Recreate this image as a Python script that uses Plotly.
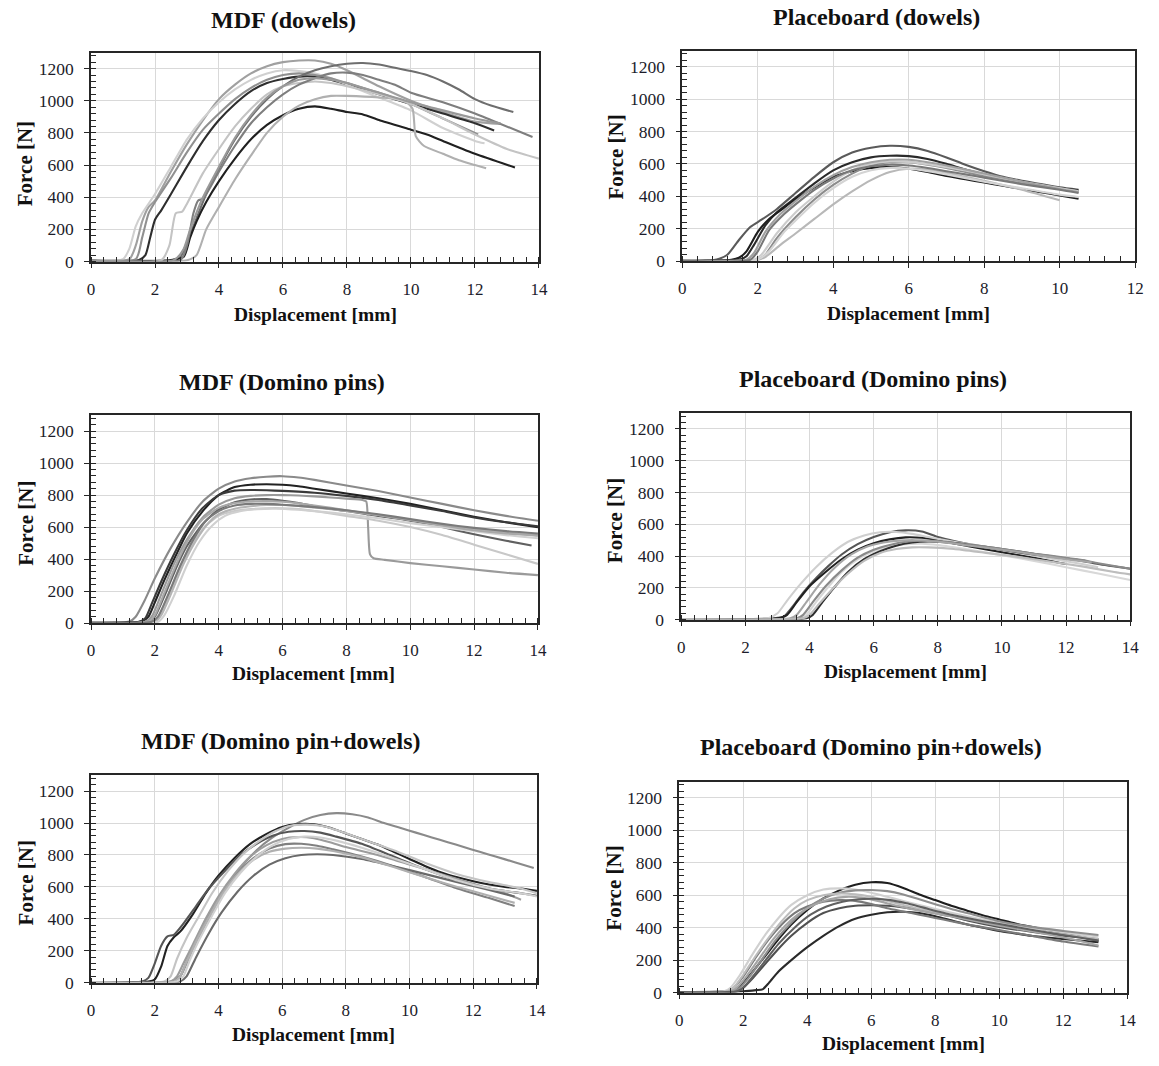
import plotly.graph_objects as go

W, H = 1159, 1066

# ---------------- data ----------------
TITLES = ["MDF (dowels)", "Placeboard (dowels)", "MDF (Domino pins)",
          "Placeboard (Domino pins)", "MDF (Domino pin+dowels)",
          "Placeboard (Domino pin+dowels)"]
X_LABEL = "Displacement [mm]"
Y_LABEL = "Force [N]"
Y_TICKS = [0, 200, 400, 600, 800, 1000, 1200]
X_MAX = [14, 12, 14, 14, 14, 14]

MDF_DOWELS = [
    [(0,8),(1.2,15),(1.4,100),(1.6,250),(1.8,340),(2.0,380),(2.5,560),(3,730),(3.5,880),(4,1010),(4.5,1100),(5,1170),(5.5,1215),(6,1240),(6.5,1250),(7,1250),(7.5,1230),(8,1190),(8.5,1140),(9,1090),(10,1000),(11,930),(12,870),(12.8,856)],
    [(0,5),(1.5,10),(1.7,40),(1.85,150),(2.0,260),(2.2,320),(2.5,420),(3,590),(3.5,750),(4,880),(4.5,980),(5,1060),(5.5,1110),(6,1135),(6.5,1150),(7,1150),(7.5,1130),(8,1100),(9,1040),(10,980),(11,920),(12,860),(12.6,815)],
    [(0,5),(1.0,15),(1.2,80),(1.4,220),(1.6,300),(2,420),(2.5,590),(3,760),(3.5,890),(4,990),(4.5,1070),(5,1130),(5.5,1170),(6,1190),(6.5,1185),(7,1170),(7.5,1140),(8,1100),(9,1020),(10,940),(11,830),(12,750),(12.3,735)],
    [(0,5),(1.4,15),(1.6,150),(1.8,300),(2,370),(2.5,520),(3,680),(3.5,820),(4,920),(4.5,1010),(5,1080),(5.5,1130),(6,1160),(6.5,1170),(7,1160),(7.5,1140),(8,1110),(9,1050),(10,980),(11,890),(12,800),(12.1,790)],
    [(0,5),(2.5,10),(2.8,30),(3.0,120),(3.3,270),(3.6,420),(4,580),(4.5,760),(5,900),(5.5,1010),(6,1090),(6.5,1150),(7,1190),(7.5,1215),(8,1230),(8.5,1235),(9,1225),(9.5,1205),(10,1185),(10.5,1160),(11,1120),(11.5,1070),(12,1010),(12.5,970),(13.2,930)],
    [(0,5),(2.5,8),(2.9,30),(3.1,150),(3.3,250),(3.6,370),(4,500),(4.5,640),(5,760),(5.5,850),(6,910),(6.5,950),(7,965),(7.5,950),(8,930),(8.5,915),(9,880),(10,820),(10.5,790),(11,750),(12,670),(13.25,585)],
    [(0,5),(3.0,8),(3.3,40),(3.6,200),(4,340),(4.5,510),(5,660),(5.5,800),(6,900),(6.5,970),(7,1010),(7.5,1030),(8,1030),(9,1020),(9.8,1000),(10.05,950),(10.15,780),(10.4,720),(11,670),(11.5,630),(12,600),(12.35,580)],
    [(0,5),(2.2,8),(2.45,100),(2.65,300),(2.85,310),(3,360),(3.5,550),(4,700),(4.5,840),(5,950),(5.5,1040),(6,1090),(6.5,1110),(7,1120),(7.5,1110),(8,1090),(9,1040),(10,980),(11,890),(12,790),(13,700),(14,640)],
    [(0,5),(2.8,10),(3.0,100),(3.2,300),(3.35,380),(3.5,390),(4,560),(4.5,720),(5,860),(5.5,960),(6,1040),(6.5,1100),(7,1140),(7.5,1170),(8,1175),(8.5,1160),(9,1130),(9.5,1100),(10,1050),(11,990),(12,920),(12.5,880),(13.8,775)],
    [(0,5),(2.6,10),(2.9,80),(3.1,200),(3.5,400),(4,590),(4.5,770),(5,910),(5.5,1020),(6,1090),(6.5,1130),(7,1140),(7.5,1130),(8,1110),(9,1050),(10,990),(11,940),(12,890),(12.8,860)],
]
MDF_DOWELS_COLORS = ["#a0a0a0", "#2e2e2e", "#d0d0d0", "#909090", "#6e6e6e",
                     "#202020", "#b0b0b0", "#c4c4c4", "#7e7e7e", "#999999"]

PB_DOWELS = [
    [(0,3),(0.8,5),(1.0,15),(1.2,40),(1.5,130),(1.8,210),(2.1,255),(2.5,320),(3,420),(3.5,520),(4,610),(4.5,670),(5,700),(5.5,712),(6,705),(6.5,680),(7,640),(7.5,595),(8,555),(8.5,520),(9,495),(9.5,475),(10,455),(10.5,440)],
    [(0,3),(1.5,8),(1.7,30),(1.9,100),(2.2,220),(2.5,300),(3,390),(3.5,480),(4,560),(4.5,610),(5,640),(5.5,650),(6,648),(6.5,630),(7,600),(7.5,565),(8,535),(8.5,510),(9,490),(9.5,470),(10,450),(10.5,435)],
    [(0,3),(1.3,8),(1.5,20),(1.7,60),(2.0,180),(2.3,260),(2.7,330),(3,380),(3.5,455),(4,520),(4.5,555),(5,575),(5.5,580),(6,570),(6.5,550),(7,525),(7.5,505),(8,485),(8.5,465),(9,445),(9.5,425),(10,405),(10.5,385)],
    [(0,3),(2.0,8),(2.2,25),(2.6,100),(3,170),(3.5,260),(4,350),(4.5,430),(5,500),(5.5,550),(6,570),(6.5,565),(7,545),(7.5,520),(8,495),(9,440),(10,375)],
    [(0,3),(2.0,8),(2.2,40),(2.5,140),(3,270),(3.5,380),(4,470),(4.5,540),(5,590),(5.5,610),(6,610),(6.5,595),(7,575),(7.5,550),(8,525),(9,485),(10,450),(10.5,430)],
    [(0,3),(1.9,8),(2.1,40),(2.5,170),(3,300),(3.5,400),(4,490),(4.5,560),(5,600),(5.5,615),(6,612),(6.5,598),(7,580),(7.5,560),(8,535),(9,490),(10,450),(10.5,430)],
    [(0,3),(1.7,8),(1.9,50),(2.2,180),(2.6,290),(3,370),(3.5,460),(4,530),(4.5,580),(5,610),(5.5,625),(6,625),(6.5,610),(7,590),(7.5,565),(8,540),(9,490),(10,445),(10.5,425)],
    [(0,3),(2.0,8),(2.3,60),(2.7,180),(3,250),(3.5,360),(4,450),(4.5,520),(5,560),(5.5,575),(6,570),(6.5,555),(7,535),(8,490),(9,450),(10,410),(10.5,395)],
    [(0,3),(1.8,8),(2.0,60),(2.3,190),(2.7,290),(3,350),(3.5,440),(4,510),(4.5,560),(5,585),(5.5,595),(6,590),(6.5,575),(7,555),(7.5,535),(8,515),(9,475),(10,440),(10.5,420)],
]
PB_DOWELS_COLORS = ["#5a5a5a", "#2a2a2a", "#1e1e1e", "#b8b8b8", "#8c8c8c",
                    "#cccccc", "#a0a0a0", "#d4d4d4", "#787878"]

MDF_DOMINO = [
    [(0,3),(1.2,10),(1.4,40),(1.7,150),(2,280),(2.5,470),(3,630),(3.5,760),(4,840),(4.5,885),(5,905),(5.5,915),(6,918),(6.5,910),(7,895),(8,860),(9,825),(10,785),(11,745),(12,705),(13,670),(14,640)],
    [(0,3),(1.6,10),(1.8,40),(2.0,130),(2.3,270),(2.7,440),(3,560),(3.5,700),(4,800),(4.5,850),(5,865),(5.5,868),(6,865),(6.5,855),(7,840),(8,810),(9,780),(10,745),(11,705),(12,665),(13,630),(14,600)],
    [(0,3),(1.5,8),(1.7,30),(1.9,120),(2.2,260),(2.6,430),(3,580),(3.5,720),(4,800),(4.5,828),(5,832),(5.5,830),(6,826),(7,815),(8,795),(9,770),(10,735),(11,700),(12,660),(13,630),(14,605)],
    [(0,3),(1.8,8),(2.0,40),(2.3,170),(2.7,360),(3,480),(3.5,620),(4,710),(4.5,755),(5,772),(5.5,775),(6,765),(6.5,750),(7,730),(8,700),(9,670),(10,640),(11,600),(12,555),(13,515),(13.8,485)],
    [(0,3),(1.7,8),(1.9,40),(2.2,180),(2.6,370),(3,520),(3.5,660),(4,740),(4.5,780),(5,795),(5.5,800),(6,800),(6.5,797),(7,792),(7.5,785),(8,778),(8.5,770),(8.62,760),(8.68,600),(8.74,430),(8.85,405),(9.2,395),(10,375),(11,355),(12,335),(13,315),(14,300)],
    [(0,3),(1.9,8),(2.1,40),(2.4,160),(2.8,350),(3.2,500),(3.6,610),(4,670),(4.5,700),(5,712),(5.5,718),(6,718),(6.5,712),(7,700),(8,670),(9,640),(10,600),(11,550),(12,490),(13,430),(14,370)],
    [(0,3),(2.0,8),(2.2,50),(2.5,180),(2.9,370),(3.3,520),(3.7,630),(4,680),(4.5,715),(5,730),(5.5,738),(6,738),(6.5,732),(7,722),(8,700),(9,675),(10,645),(11,615),(12,590),(13,565),(14,545)],
    [(0,3),(2.1,8),(2.3,50),(2.6,170),(3,360),(3.4,510),(3.8,610),(4.2,670),(4.7,700),(5.2,712),(5.8,715),(6.5,708),(7,700),(8,680),(9,655),(10,625),(11,600),(12,575),(13,550),(14,530)],
    [(0,3),(1.8,8),(2.0,50),(2.3,190),(2.7,380),(3.1,540),(3.5,650),(4,720),(4.5,750),(5,760),(5.5,762),(6,758),(6.5,748),(7,735),(8,705),(9,675),(10,645),(11,610),(12,580),(13,560),(14,550)],
    [(0,3),(1.9,8),(2.1,40),(2.4,170),(2.8,360),(3.2,520),(3.6,640),(4,700),(4.5,735),(5,745),(5.5,745),(6,740),(7,725),(8,705),(9,680),(10,650),(11,620),(12,595),(13,575),(14,560)],
]
MDF_DOMINO_COLORS = ["#8a8a8a", "#222222", "#3a3a3a", "#606060", "#9a9a9a",
                     "#c8c8c8", "#b4b4b4", "#d0d0d0", "#a8a8a8", "#7a7a7a"]

PB_DOMINO = [
    [(0,3),(2.9,8),(3.2,20),(3.5,90),(3.8,170),(4.2,260),(4.6,340),(5,410),(5.5,475),(6,520),(6.5,550),(7,562),(7.5,555),(8,520),(8.5,495),(9,475),(10,445),(11,415),(12,385),(12.5,370),(13,350),(14,320)],
    [(0,3),(3.0,8),(3.3,30),(3.6,110),(4,210),(4.5,300),(5,380),(5.5,440),(6,480),(6.5,505),(7,518),(7.5,515),(8,500),(8.5,480),(9,460),(10,425),(11,390),(12,350)],
    [(0,3),(2.7,8),(3.0,40),(3.3,120),(3.7,220),(4.2,330),(4.7,420),(5.2,490),(5.7,530),(6.2,550),(6.7,552),(7.2,540),(7.7,520),(8.5,490),(9.5,455),(10.5,420),(11.5,385),(12.5,350),(13,330)],
    [(0,3),(3.7,8),(3.9,30),(4.2,110),(4.6,210),(5,300),(5.5,380),(6,430),(6.5,460),(7,475),(7.5,478),(8,470),(9,440),(10,405),(11,370),(12,330),(13,290),(14,250)],
    [(0,3),(3.9,8),(4.1,30),(4.4,110),(4.8,210),(5.2,300),(5.7,380),(6.2,430),(6.7,465),(7.2,485),(7.7,492),(8.2,488),(9,470),(10,440),(11,410),(12,385),(12.6,370)],
    [(0,3),(3.6,8),(3.8,30),(4.1,110),(4.5,210),(5,310),(5.5,390),(6,440),(6.5,470),(7,490),(7.5,498),(8,495),(9,470),(10,445),(11,415),(12,390),(12.5,375),(13,355),(14,320)],
    [(0,3),(3.4,8),(3.6,30),(3.9,110),(4.3,220),(4.8,330),(5.3,410),(5.8,460),(6.3,485),(6.8,497),(7.3,500),(8,490),(9,465),(10,440),(11,410),(12,380),(12.8,360)],
    [(0,3),(3.8,8),(4.0,30),(4.3,100),(4.7,190),(5.2,290),(5.7,370),(6.2,420),(6.7,445),(7.2,455),(7.7,455),(8.5,445),(9.5,420),(10.5,395),(11.5,365),(12.5,335),(13.5,300),(14,285)],
]
PB_DOMINO_COLORS = ["#555555", "#222222", "#cfcfcf", "#d8d8d8", "#2e2e2e",
                    "#8a8a8a", "#a5a5a5", "#bdbdbd"]

MDF_COMBI = [
    [(0,3),(2.5,8),(2.8,40),(3.0,120),(3.3,260),(3.7,420),(4.2,590),(4.7,720),(5.2,830),(5.7,910),(6.2,970),(6.7,1020),(7.2,1050),(7.7,1062),(8.2,1055),(8.7,1035),(9.2,1000),(9.7,970),(10.2,940),(10.7,910),(11.2,880),(11.7,850),(12.2,820),(12.7,790),(13.3,755),(13.9,718)],
    [(0,3),(1.8,8),(2.0,20),(2.2,100),(2.4,230),(2.6,285),(2.8,320),(3.2,430),(3.6,560),(4,670),(4.5,780),(5,870),(5.5,930),(6,975),(6.5,993),(7,992),(7.5,970),(8,935),(8.5,900),(9,865),(9.5,820),(10,775),(10.5,730),(11,690),(11.5,660),(12,635),(12.5,615),(13,600),(13.5,590),(14,575)],
    [(0,3),(1.6,8),(1.8,30),(2.0,120),(2.2,230),(2.4,290),(2.6,300),(2.9,370),(3.3,480),(3.7,590),(4.2,700),(4.7,800),(5.2,870),(5.7,920),(6.2,945),(6.7,950),(7.2,940),(7.7,915),(8.5,870),(9.5,790),(10.5,710),(11.5,640),(12.5,590),(13.5,560),(14,545)],
    [(0,3),(2.3,8),(2.5,40),(2.7,150),(3.0,280),(3.4,420),(3.8,560),(4.3,700),(4.8,810),(5.3,890),(5.8,950),(6.3,985),(6.8,990),(7.3,980),(7.8,950),(8.5,900),(9.5,830),(10.5,750),(11.5,680),(12.5,630),(13.5,590),(14,560)],
    [(0,3),(2.5,8),(2.7,40),(2.9,120),(3.2,240),(3.6,400),(4,540),(4.5,680),(5,790),(5.5,860),(6,900),(6.5,912),(7,905),(7.5,880),(8,850),(9,800),(10,740),(11,680),(12,620),(13,560),(13.5,520)],
    [(0,3),(2.6,8),(2.8,40),(3.0,130),(3.3,250),(3.7,400),(4.1,540),(4.6,680),(5.1,780),(5.6,840),(6.1,868),(6.6,870),(7.1,858),(7.6,835),(8.5,790),(9.5,730),(10.5,660),(11.5,590),(12.5,530),(13.3,480)],
    [(0,3),(2.8,8),(3.0,40),(3.3,160),(3.7,310),(4.1,440),(4.6,570),(5.1,670),(5.6,740),(6.1,780),(6.6,800),(7.1,805),(7.6,800),(8.5,775),(9.5,730),(10.5,680),(11.5,630),(12.5,580),(13.3,540)],
    [(0,3),(2.6,8),(2.8,40),(3.0,130),(3.3,260),(3.7,410),(4.1,550),(4.6,680),(5.1,770),(5.6,820),(6.1,840),(6.6,845),(7.1,840),(7.6,825),(8.5,785),(9.5,725),(10.5,660),(11.5,600),(12.5,545),(13.3,500)],
    [(0,3),(2.7,8),(2.9,40),(3.1,140),(3.4,270),(3.8,420),(4.2,560),(4.7,690),(5.2,790),(5.7,860),(6.2,900),(6.7,915),(7.2,910),(7.7,890),(8.5,845),(9.5,780),(10.5,710),(11.5,640),(12.5,590),(13.5,560),(14,540)],
]
MDF_COMBI_COLORS = ["#8a8a8a", "#222222", "#555555", "#c4c4c4", "#9c9c9c",
                    "#808080", "#6a6a6a", "#b0b0b0", "#d0d0d0"]

PB_COMBI = [
    [(0,3),(1.6,8),(1.8,20),(2.0,60),(2.3,130),(2.7,230),(3.1,330),(3.5,420),(4,510),(4.5,580),(5,630),(5.5,665),(6,680),(6.5,675),(7,645),(7.5,605),(8,570),(8.5,535),(9,505),(9.5,475),(10,450),(10.5,425),(11,405),(11.5,385),(12,365),(12.5,345),(13.1,320)],
    [(0,3),(2.0,8),(2.4,15),(2.6,20),(2.8,60),(3.1,130),(3.5,200),(4,280),(4.5,350),(5,410),(5.5,455),(6,480),(6.5,495),(7,498),(7.5,490),(8,470),(8.5,445),(9,420),(9.5,400),(10,380),(10.5,365),(11,350),(12,330),(13.1,310)],
    [(0,3),(1.8,8),(2.0,30),(2.3,90),(2.7,180),(3.1,270),(3.5,350),(4,430),(4.5,490),(5,520),(5.5,535),(6,538),(6.5,535),(7,525),(7.5,510),(8,490),(8.5,470),(9,445),(10,405),(11,375),(12,350),(13.1,330)],
    [(0,3),(1.5,8),(1.7,30),(2.0,100),(2.4,220),(2.8,330),(3.2,420),(3.6,490),(4,530),(4.5,560),(5,570),(5.5,565),(6,545),(6.5,520),(7,500),(7.5,480),(8,460),(8.5,440),(9,420),(10,385),(11,350),(12,315),(13.1,285)],
    [(0,3),(1.4,8),(1.6,30),(1.9,110),(2.3,240),(2.7,360),(3.1,460),(3.5,540),(4,600),(4.5,635),(5,642),(5.5,635),(6,615),(6.5,590),(7,565),(7.5,540),(8,515),(9,470),(10,430),(11,400),(12,370),(13.1,345)],
    [(0,3),(1.7,8),(1.9,30),(2.2,100),(2.6,210),(3,320),(3.5,430),(4,520),(4.5,580),(5,615),(5.5,630),(6,632),(6.5,625),(7,605),(7.5,575),(8,545),(8.5,515),(9,490),(10,440),(11,405),(12,380),(13.1,355)],
    [(0,3),(1.5,8),(1.7,30),(2.0,110),(2.4,230),(2.8,340),(3.2,440),(3.6,520),(4,570),(4.5,600),(5,610),(5.5,605),(6,590),(6.5,565),(7,540),(7.5,515),(8,495),(9,455),(10,420),(11,385),(12,360),(13.1,330)],
    [(0,3),(1.6,8),(1.8,30),(2.1,100),(2.5,210),(2.9,320),(3.3,410),(3.7,480),(4.2,540),(4.7,575),(5.2,590),(5.7,585),(6.2,565),(6.8,535),(7.5,505),(8.5,470),(9.5,430),(10.5,395),(11.5,360),(12.5,320),(13.1,290)],
    [(0,3),(1.8,8),(2.0,30),(2.3,100),(2.7,200),(3.1,300),(3.6,400),(4.1,480),(4.6,530),(5.1,560),(5.6,575),(6.1,578),(6.6,570),(7.1,550),(7.6,525),(8.5,480),(9.5,440),(10.5,405),(11.5,370),(12.5,340),(13.1,320)],
]
PB_COMBI_COLORS = ["#1e1e1e", "#2a2a2a", "#505050", "#7a7a7a", "#d0d0d0",
                   "#8e8e8e", "#bcbcbc", "#a4a4a4", "#606060"]

PANEL_CURVES = [MDF_DOWELS, PB_DOWELS, MDF_DOMINO, PB_DOMINO, MDF_COMBI, PB_COMBI]
PANEL_COLORS = [MDF_DOWELS_COLORS, PB_DOWELS_COLORS, MDF_DOMINO_COLORS,
                PB_DOMINO_COLORS, MDF_COMBI_COLORS, PB_COMBI_COLORS]

# ---------------- layout (pixel geometry) ----------------
# plot area: (left, right, top, bottom) in px
AREAS = [(88, 541, 53, 264), (686, 1144, 51, 263.5), (88, 540, 419, 629),
         (685, 1139, 417, 625.5), (88, 539, 782.5, 992), (683, 1136, 789, 1002)]
TITLE_POS = [(283, 20), (882, 17), (281, 386), (879, 383), (280, 748), (877, 754)]
XT_POS = [(315, 317), (915, 316), (313, 680), (912, 678), (313, 1044), (910, 1053)]
YT_POS = [(22, 165), (618, 159), (22, 528), (618, 526), (22, 891), (617, 897)]

SERIF = "Liberation Serif"
AXC = "#262626"
TXT = "#1c1c2a"

fig = go.Figure()
annotations = []

for i, (curves, colors) in enumerate(zip(PANEL_CURVES, PANEL_COLORS)):
    n = i + 1
    xa = "x" if n == 1 else f"x{n}"
    ya = "y" if n == 1 else f"y{n}"
    for pts, col in zip(curves, colors):
        fig.add_trace(go.Scatter(
            x=[p[0] for p in pts], y=[p[1] for p in pts],
            mode="lines", line=dict(color=col, width=2.1, shape="spline", smoothing=0.6),
            xaxis=xa, yaxis=ya, showlegend=False, hoverinfo="skip"))

    l, r, t, b = AREAS[i]
    common = dict(showgrid=True, gridcolor="#d9d9d9", gridwidth=1.3,
                  showline=True, linecolor=AXC, linewidth=1.5, mirror=True,
                  ticks="outside", ticklen=5, tickwidth=1.3, tickcolor=AXC,
                  zeroline=False, fixedrange=True)
    fig.layout[f"xaxis{'' if n == 1 else n}"] = dict(
        common, domain=[l / W, r / W], range=[0, X_MAX[i]], dtick=2, tick0=0,
        anchor=ya, tickfont=dict(family=SERIF, size=17, color=TXT),
        ticklabelstandoff=6,
        minor=dict(dtick=0.4, ticks="inside", ticklen=5, tickwidth=1.3,
                   tickcolor=AXC, showgrid=False))
    fig.layout[f"yaxis{'' if n == 1 else n}"] = dict(
        common, domain=[1 - b / H, 1 - t / H], range=[0, 1300],
        tickvals=Y_TICKS, anchor=xa,
        tickfont=dict(family=SERIF, size=17.5, color=TXT),
        ticklabelstandoff=7,
        minor=dict(dtick=40, tick0=0, ticks="inside", ticklen=5, tickwidth=1.3,
                   tickcolor=AXC, showgrid=False))

    tx, ty = TITLE_POS[i]
    annotations.append(dict(text=f"<b>{TITLES[i]}</b>", x=tx / W, y=1 - ty / H,
                            xref="paper", yref="paper", showarrow=False,
                            xanchor="center", yanchor="middle",
                            font=dict(family=SERIF, size=24, color="#111111")))
    xx, xy = XT_POS[i]
    annotations.append(dict(text=f"<b>{X_LABEL}</b>", x=xx / W, y=1 - xy / H,
                            xref="paper", yref="paper", showarrow=False,
                            xanchor="center", yanchor="middle",
                            font=dict(family=SERIF, size=19.5, color="#111111")))
    yx, yy = YT_POS[i]
    annotations.append(dict(text=f"<b>{Y_LABEL}</b>", x=yx / W, y=1 - yy / H,
                            xref="paper", yref="paper", showarrow=False,
                            xanchor="center", yanchor="middle", textangle=-90,
                            font=dict(family=SERIF, size=21, color="#111111")))

fig.update_layout(width=W, height=H, margin=dict(l=0, r=0, t=0, b=0),
                  paper_bgcolor="white", plot_bgcolor="white",
                  font=dict(family=SERIF),
                  annotations=annotations, showlegend=False)

fig.write_html("out.html", config={"displayModeBar": False})

# remove default page margin so the figure sits at the window origin
with open("out.html", "r", encoding="utf-8") as f:
    html = f.read()
html = html.replace("<head>", "<head><style>html,body{margin:0;padding:0;}</style>", 1)
with open("out.html", "w", encoding="utf-8") as f:
    f.write(html)
